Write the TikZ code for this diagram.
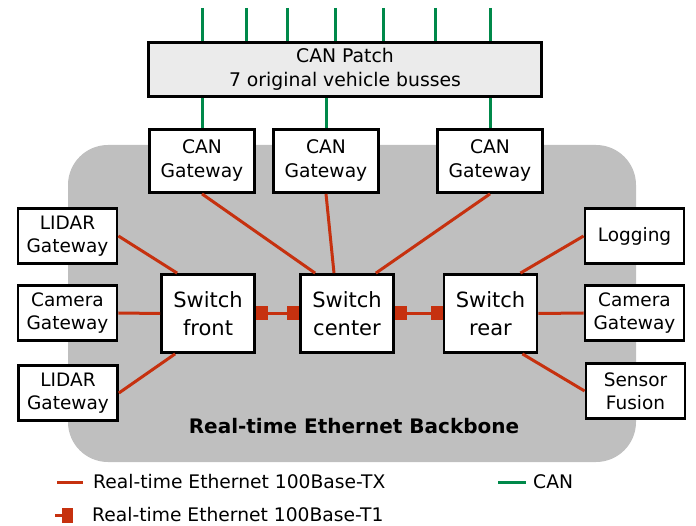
\documentclass[tikz,border=0pt]{standalone}
\usepackage{fontspec}
\setmainfont{DejaVu Sans}
\usetikzlibrary{arrows.meta}

\definecolor{ethred}{HTML}{C6310F}
\definecolor{cangreen}{HTML}{00894A}
\definecolor{backbonegray}{HTML}{BFBFBF}
\definecolor{patchgray}{HTML}{EBEBEB}

\begin{document}
\begin{tikzpicture}[x=1pt,y=-1pt,
  box/.style={draw,line width=2.8pt,fill=white,align=center,inner sep=0,minimum width=99pt,minimum height=55pt,font=\fontsize{18.5}{23}\selectfont},
  gw/.style={box,minimum width=105pt,minimum height=63pt,font=\fontsize{18.7}{24}\selectfont},
  switch/.style={box,minimum width=93pt,minimum height=78pt,font=\fontsize{21}{28}\selectfont},
  eth/.style={ethred,line width=3pt},
  tonelink/.style={eth,{Square[length=12pt,width=14pt]}-{Square[length=12pt,width=14pt]}},
  can/.style={cangreen,line width=3pt},
  legend/.style={anchor=west,inner sep=0,font=\fontsize{18.7}{21}\selectfont}]
\useasboundingbox (0,0) rectangle (696,526);
\fill[backbonegray,rounded corners=40pt] (68,145) rectangle (636,462);
\node[font=\fontsize{20}{24}\selectfont\bfseries] (title) at (354,426) {Real-time Ethernet Backbone};

% CAN side
\node[box,fill=patchgray,minimum width=393pt,minimum height=54pt,font=\fontsize{18.8}{24}\selectfont] (patch) at (345,69.5) {CAN Patch\\7 original vehicle busses};
\foreach \x in {202,246,287,335,383,435,490}{%
  \coordinate (bus\x) at (\x,8);
  \draw[can] (bus\x) -- (bus\x |- patch.north);}
\node[gw] (gw1) at (202,161) {CAN\\Gateway};
\node[gw] (gw2) at (326,161) {CAN\\Gateway};
\node[gw] (gw3) at (490,161) {CAN\\Gateway};
\foreach \g in {gw1,gw2,gw3}
  \draw[can] (\g.north) -- (\g.north |- patch.south);

% switches
\node[switch] (sf) at (208,313.5) {Switch\\front};
\node[switch] (sc) at (347,313.5) {Switch\\center};
\node[switch] (sr) at (490.5,313.5) {Switch\\rear};
\node[box] (lidar1) at (67.5,236) {LIDAR\\Gateway};
\node[box] (cam1) at (67.5,313) {Camera\\Gateway};
\node[box] (lidar2) at (68,393) {LIDAR\\Gateway};
\node[box] (logging) at (634.5,236) {Logging};
\node[box] (cam2) at (634.5,313) {Camera\\Gateway};
\node[box] (fusion) at (635.5,391) {Sensor\\Fusion};

% 100Base-TX
\draw[eth] (gw1.south) -- ([xshift=16pt]sc.north west);
\draw[eth] (gw2.south) -- ([xshift=-13pt]sc.north);
\draw[eth] (gw3.south) -- ([xshift=-19pt]sc.north east);
\draw[eth] (lidar1.east) -- ([xshift=17pt]sf.north west);
\draw[eth] (cam1.east) -- (sf.west);
\draw[eth] (lidar2.east) -- ([xshift=15pt]sf.south west);
\draw[eth] (logging.west) -- ([xshift=-18pt]sr.north east);
\draw[eth] (cam2.west) -- (sr.east);
\draw[eth] (fusion.west) -- ([xshift=-16pt]sr.south east);
% 100Base-T1
\draw[tonelink] (sf.east) -- (sc.west);
\draw[tonelink] (sc.east) -- (sr.west);

% legend
\node[legend] (ltx) at (93,482) {Real-time Ethernet 100Base-TX};
\node[legend] (lcan) at (533,482) {CAN};
\node[legend] (lt1) at (92,515) {Real-time Ethernet 100Base-T1};
\draw[eth] ([xshift=-36pt]ltx.west) -- ([xshift=-10pt]ltx.west);
\draw[can] ([xshift=-35pt]lcan.west) -- ([xshift=-7pt]lcan.west);
\draw[eth,-{Square[length=11pt,width=15pt]}] ([xshift=-37pt]lt1.west) -- ([xshift=-19pt]lt1.west);
\end{tikzpicture}
\end{document}
